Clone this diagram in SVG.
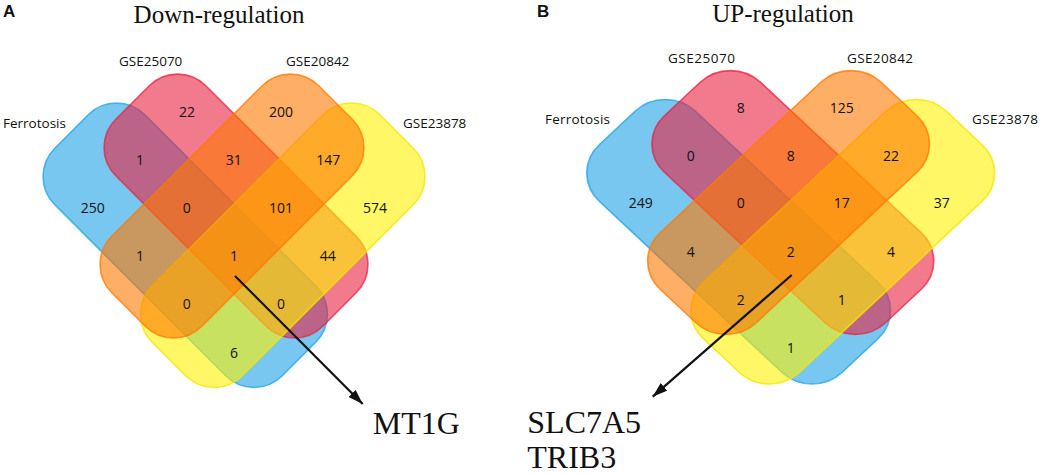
<svg xmlns="http://www.w3.org/2000/svg" width="1045" height="474" viewBox="0 0 1045 474">
<style>
.bg{fill:#ffffff}
.blue{fill:#1ea2e6;fill-opacity:0.6;stroke:#1ea2e6;stroke-opacity:0.75;stroke-width:1.6}
.pink{fill:#e82141;fill-opacity:0.6;stroke:#e82141;stroke-opacity:0.75;stroke-width:1.6}
.yellow{fill:#fff200;fill-opacity:0.6;stroke:#f5e600;stroke-opacity:0.8;stroke-width:1.6}
.orange{fill:#ff7800;fill-opacity:0.6;stroke:#ff7800;stroke-opacity:0.75;stroke-width:1.6}
.num{font-family:"Open Sans","DejaVu Sans",sans-serif;font-size:14px;fill:#111;text-anchor:middle}
.set{font-family:"Open Sans","DejaVu Sans",sans-serif;font-size:13.5px;fill:#111}
.title{font-family:"Liberation Serif","Times New Roman",serif;font-size:25px;fill:#111;text-anchor:middle}
.gene{font-family:"Liberation Serif","Times New Roman",serif;font-size:32px;fill:#111}
.panel{font-family:"Liberation Sans",Arial,sans-serif;font-size:17px;font-weight:bold;fill:#111}
.arrow{stroke:#111;stroke-width:2.2;fill:none}
</style>
<defs>
<marker id="ah" markerUnits="userSpaceOnUse" markerWidth="16" markerHeight="12" refX="15" refY="5" orient="auto">
<path d="M0,0 L15,5 L0,10 Z" fill="#111"/>
</marker>
<g id="venn">
<rect class="blue" x="24.4" y="181.6" width="321.7" height="127.3" rx="40" transform="rotate(45 185.25 245.25)"/>
<rect class="pink" x="89.65" y="142.35" width="292.7" height="127.3" rx="40" transform="rotate(45 236 206)"/>
<rect class="yellow" x="121.9" y="181.6" width="321.7" height="127.3" rx="40" transform="rotate(-45 282.75 245.25)"/>
<rect class="orange" x="85.65" y="142.35" width="292.7" height="127.3" rx="40" transform="rotate(-45 232 206)"/>
</g>
</defs>
<rect class="bg" x="0" y="0" width="1045" height="474"/>

<g id="panelA">
<text class="panel" x="3" y="17">A</text>
<text class="title" x="219" y="23">Down-regulation</text>
<g id="A-Ferrotosis"><use href="#venn"/></g>
<g id="A-labels">
<text class="set" x="3" y="128">Ferrotosis</text>
<text class="set" x="119" y="66">GSE25070</text>
<text class="set" x="286" y="66">GSE20842</text>
<text class="set" x="403" y="128">GSE23878</text>
</g>
<g id="A-counts">
<text class="num" x="187" y="116.7">22</text>
<text class="num" x="281" y="116.7">200</text>
<text class="num" x="140" y="165">1</text>
<text class="num" x="233.7" y="165">31</text>
<text class="num" x="328.3" y="165">147</text>
<text class="num" x="92.7" y="212.7">250</text>
<text class="num" x="186.7" y="212.7">0</text>
<text class="num" x="281" y="212.7">101</text>
<text class="num" x="375" y="212.7">574</text>
<text class="num" x="140" y="261">1</text>
<text class="num" x="234" y="261">1</text>
<text class="num" x="327.7" y="261">44</text>
<text class="num" x="186.7" y="309.3">0</text>
<text class="num" x="281" y="309.3">0</text>
<text class="num" x="234" y="357.7">6</text>
</g>
<g id="A-gene"><text class="gene" x="372.7" y="433.5">MT1G</text></g>
</g>

<g id="panelB">
<text class="panel" x="537" y="17">B</text>
<text class="title" x="783" y="22">UP-regulation</text>
<g id="B-venn" transform="translate(790.7,-3.5) scale(1.068,1) translate(-234,0)"><use href="#venn"/></g>
<g id="B-labels">
<text class="set" x="545" y="124" textLength="65">Ferrotosis</text>
<text class="set" x="668" y="62.7" textLength="67">GSE25070</text>
<text class="set" x="847" y="63" textLength="66">GSE20842</text>
<text class="set" x="972" y="124" textLength="66">GSE23878</text>
</g>
<g id="B-counts">
<text class="num" x="740.7" y="113.3">8</text>
<text class="num" x="841.7" y="113.3">125</text>
<text class="num" x="690.7" y="161">0</text>
<text class="num" x="790.7" y="161">8</text>
<text class="num" x="891" y="161">22</text>
<text class="num" x="640.7" y="208.3">249</text>
<text class="num" x="740.7" y="208.3">0</text>
<text class="num" x="841.7" y="208.3">17</text>
<text class="num" x="941.7" y="208.3">37</text>
<text class="num" x="690.7" y="257.3">4</text>
<text class="num" x="790.7" y="257.3">2</text>
<text class="num" x="891" y="257.3">4</text>
<text class="num" x="740.7" y="305">2</text>
<text class="num" x="841.7" y="305">1</text>
<text class="num" x="790.7" y="353.3">1</text>
</g>
<g id="B-gene">
<text class="gene" x="527.3" y="433.3">SLC7A5</text>
<text class="gene" x="527.3" y="468">TRIB3</text>
</g>
</g>

<g id="connectors">
<line class="arrow" x1="235" y1="276" x2="362.7" y2="404" marker-end="url(#ah)"/>
<line class="arrow" x1="791.7" y1="275" x2="652.7" y2="396.7" marker-end="url(#ah)"/>
</g>
</svg>
